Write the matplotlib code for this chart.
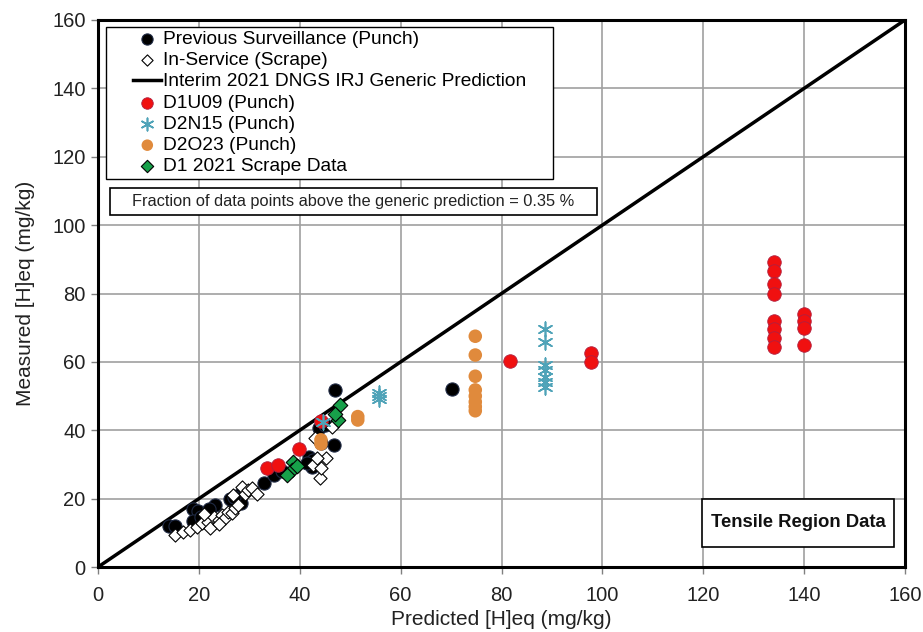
import numpy as np
import matplotlib.pyplot as plt
from matplotlib.lines import Line2D
from matplotlib.collections import PathCollection
from matplotlib.legend_handler import HandlerLine2D, HandlerPathCollection
from matplotlib.patches import Rectangle

plt.rcParams['font.family'] = ['Liberation Sans', 'DejaVu Sans']

# previous surveillance punch samples (predicted, measured)
prev_x = [14.1, 15.3, 18.9, 19.8, 18.9, 20.5, 23.2, 22.0, 26.2, 28.0, 28.3, 27.0,
          33.0, 34.8, 41.8, 42.7, 42.4, 41.5, 43.9, 44.2, 46.7, 47.0, 70.1, 36.5, 45.0]
prev_y = [12.0, 12.0, 16.9, 16.5, 13.5, 14.5, 18.1, 17.0, 19.8, 21.1, 18.6, 20.5,
          24.6, 26.9, 32.3, 31.3, 29.3, 30.5, 40.6, 36.2, 35.7, 51.8, 52.2, 28.0, 41.5]

# in-service scrape samples
scrape_x = [15.3, 16.9, 18.2, 19.6, 20.6, 21.9, 22.2, 22.9, 23.9, 24.5, 25.2, 25.8,
            26.5, 27.2, 27.8, 28.5, 29.1, 29.8, 30.5, 21.0, 24.0, 26.8, 43.0, 42.7,
            45.3, 44.0, 44.3, 46.3, 43.4, 31.5]
scrape_y = [9.4, 10.3, 10.8, 11.8, 12.8, 13.3, 11.3, 14.7, 13.7, 15.2, 14.2, 16.2,
            15.7, 17.2, 18.1, 23.5, 21.5, 22.5, 23.0, 15.5, 12.5, 21.0, 37.6, 29.8,
            31.8, 25.9, 28.9, 41.0, 31.8, 21.5]

# D1U09 punch
d1u09_x = [134, 134, 134, 134, 134, 134, 134, 134, 140, 140, 140, 140,
           97.7, 97.7, 81.7, 39.9, 33.6, 35.7, 44.3]
d1u09_y = [89.3, 86.6, 82.9, 79.8, 72.0, 69.6, 66.9, 64.4, 74.0, 72.0, 69.8, 64.9,
           62.7, 60.0, 60.3, 34.6, 28.9, 29.8, 42.8]

# D2N15 punch
d2n15_x = [88.6, 88.6, 88.6, 88.6, 88.6, 88.6, 88.6, 55.8, 55.8, 55.8, 44.6]
d2n15_y = [69.5, 65.9, 59.1, 57.6, 55.6, 54.2, 52.7, 51.0, 50.0, 49.0, 42.5]

# D2O23 punch
d2o23_x = [74.8, 74.8, 74.8, 74.8, 74.8, 74.8, 74.8, 74.8, 51.5, 51.5, 44.2, 44.2]
d2o23_y = [67.5, 62.0, 55.8, 51.8, 50.0, 48.3, 46.9, 45.7, 44.0, 43.0, 37.2, 36.0]

# D1 2021 scrape
d1scr_x = [38.7, 38.4, 37.4, 48.0, 47.6, 47.0, 39.5]
d1scr_y = [30.8, 28.4, 26.9, 47.4, 43.0, 44.9, 29.6]

pred_line = [0, 160]
fraction_above = 0.35

fig = plt.figure(figsize=(9.23, 6.32), dpi=100)
ax = fig.add_axes([0.1062, 0.1028, 0.8743, 0.8656])

ax.scatter(prev_x, prev_y, s=90, c='black', edgecolors='#1f2a44', linewidths=0.8,
           zorder=3, label='Previous Surveillance (Punch)')
ax.scatter(scrape_x, scrape_y, s=45, marker='D', facecolors='white', edgecolors='black',
           linewidths=0.8, zorder=3, label='In-Service (Scrape)')
ax.plot(pred_line, pred_line, color='black', lw=2.5, zorder=2,
        label='Interim 2021 DNGS IRJ Generic Prediction')
ax.scatter(d1u09_x, d1u09_y, s=95, c='#f01010', edgecolors='#b02040', linewidths=0.6,
           zorder=4, label='D1U09 (Punch)')
ax.scatter(d2n15_x, d2n15_y, s=110, marker=(6, 2, 0), c='#4fa3b8', linewidths=1.2,
           zorder=4, label='D2N15 (Punch)')
ax.scatter(d2o23_x, d2o23_y, s=95, c='#e08a3c', edgecolors='none',
           zorder=4, label='D2O23 (Punch)')
ax.scatter(d1scr_x, d1scr_y, s=55, marker='D', c='#17a04a', edgecolors='black', linewidths=0.8,
           zorder=5, label='D1 2021 Scrape Data')

ax.set_xlim(0, 160)
ax.set_ylim(0, 160)
ax.set_xticks(np.arange(0, 161, 20))
ax.set_yticks(np.arange(0, 161, 20))
ax.grid(True, color='#a0a0a0', lw=1.2)
ax.set_axisbelow(True)
ax.tick_params(labelsize=14.5, direction='out', length=5, width=1, color='#808080',
               labelcolor='#222222')
ax.tick_params(axis='x', pad=9)
ax.tick_params(axis='y', pad=4)
for sp in ax.spines.values():
    sp.set_linewidth(2.2)
ax.set_xlabel('Predicted [H]eq (mg/kg)', fontsize=15, labelpad=3, color='#222222')
ax.set_ylabel('Measured [H]eq (mg/kg)', fontsize=15, labelpad=12, color='#222222')

# shift legend handles right so the line sits just before the text
hpad = 1.25
hmap = {Line2D: HandlerLine2D(xpad=hpad), PathCollection: HandlerPathCollection(xpad=hpad)}
leg = ax.legend(loc='upper left', bbox_to_anchor=(0.0099, 0.0, 0.554, 0.987), mode='expand',
                fontsize=13.8, frameon=True, fancybox=False, edgecolor='black', framealpha=1,
                handlelength=2.7, handletextpad=0.1, labelspacing=0.2, borderpad=0.18,
                borderaxespad=0, markerscale=0.85, handler_map=hmap)
leg.get_frame().set_linewidth(1.0)

# fraction note box
ax.add_patch(Rectangle((0.0149, 0.6435), 0.603, 0.0495, transform=ax.transAxes,
                       fc='white', ec='black', lw=1.2, zorder=6))
ax.text(0.3165, 0.669, f'Fraction of data points above the generic prediction = {fraction_above} %',
        transform=ax.transAxes, fontsize=11.8, va='center', ha='center', color='#222222', zorder=7)

# region label box
ax.add_patch(Rectangle((0.7485, 0.0366), 0.2379, 0.0877, transform=ax.transAxes,
                       fc='white', ec='black', lw=1.2, zorder=6))
ax.text(0.8675, 0.0805, 'Tensile Region Data', transform=ax.transAxes, fontsize=13.3,
        fontweight='bold', va='center', ha='center', color='#111111', zorder=7)

fig.savefig('out.png', dpi=100)
